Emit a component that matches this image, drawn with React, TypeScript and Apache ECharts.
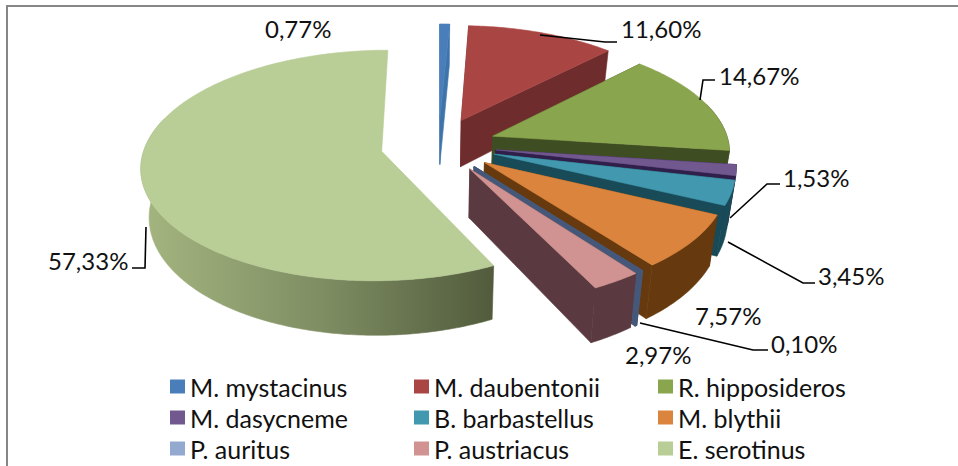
import React, { useEffect, useRef } from "react";
import * as echarts from "echarts";

const species = ["M. mystacinus", "M. daubentonii", "R. hipposideros", "M. dasycneme", "B. barbastellus", "M. blythii", "P. auritus", "P. austriacus", "E. serotinus"];
const shares = [0.77, 11.6, 14.67, 1.53, 3.45, 7.57, 0.1, 2.97, 57.33];

const topColors = ["#4a7ebb", "#a94644", "#89a54e", "#71588f", "#4198af", "#db843d", "#93a9cf", "#d19392", "#b9cd96"];
const wallColors = ["#3f74ab", "#6f2c2c", "#3f4e22", "#2f1f4a", "#184a58", "#663a0e", "#46587a", "#5a3a40", "#6f7d55"];

// Projection of the tilted disc on to the page
const CX = 438.5, CY = 145, RX = 236.5, RY = 112, PERSP = 0.122, EXPLODE = 0.245, DEPTH = 47.5, CONVERGE = 0.028;

const total = shares.reduce((a, b) => a + b, 0);
const starts = shares.map((_, i) => shares.slice(0, i).reduce((a, b) => a + b, 0));

function project(X: number, Y: number, bottom: boolean): number[] {
  const f = 1 / (1 - PERSP * Y);
  const x = CX + RX * X * f;
  const y = CY + RY * Y * f;
  if (!bottom) return [x, y];
  return [CX + (x - CX) * (1 - CONVERGE), y + DEPTH * f];
}

function makeRenderItem(index: number) {
  return (_params: any, api: any) => {
    const value = api.value(0);
    const start = api.value(1);
    const a0 = (start / total) * Math.PI * 2;
    const a1 = ((start + value) / total) * Math.PI * 2;
    const mid = (a0 + a1) / 2;
    const ox = EXPLODE * Math.sin(mid);
    const oy = -EXPLODE * Math.cos(mid);
    const n = Math.max(2, Math.ceil((a1 - a0) / 0.015));
    const rimTop: number[][] = [];
    const frontTop: number[][] = [];
    const frontBottom: number[][] = [];
    for (let k = 0; k <= n; k++) {
      const a = a0 + ((a1 - a0) * k) / n;
      const X = ox + Math.sin(a);
      const Y = oy - Math.cos(a);
      rimTop.push(project(X, Y, false));
      if (Math.cos(a) < 0.3) {
        frontTop.push(project(X, Y, false));
        frontBottom.push(project(X, Y, true));
      }
    }
    const apexTop = project(ox, oy, false);
    const apexBottom = project(ox, oy, true);
    const startX = ox + Math.sin(a0), startY = oy - Math.cos(a0);
    const endX = ox + Math.sin(a1), endY = oy - Math.cos(a1);
    const isLargest = index === 8;
    const wall: any = isLargest
      ? {
          type: "linear", x: 147, y: 0, x2: 493, y2: 0, global: true,
          colorStops: [
            { offset: 0, color: "#a3b47f" },
            { offset: 0.5, color: "#7f8e63" },
            { offset: 1, color: "#525c3d" },
          ],
        }
      : wallColors[index];
    const lineWidth = index === 6 ? 2 : 0.6;
    const poly = (points: number[][], fill: any, stroke: any) => ({
      type: "polygon",
      shape: { points },
      style: { fill, stroke, lineWidth, lineJoin: "round" },
    });
    const startWall = [apexTop, project(startX, startY, false), project(startX, startY, true), apexBottom];
    const endWall = [apexTop, project(endX, endY, false), project(endX, endY, true), apexBottom];
    const children: any[] = [];
    if (!isLargest) {
      children.push(poly(startWall, wall, wall), poly(endWall, wall, wall));
    }
    if (frontTop.length > 1) {
      children.push(poly([...frontTop, ...frontBottom.slice().reverse()], wall, wall));
    }
    const topStroke = index === 6 ? wallColors[6] : topColors[index];
    children.push(poly([apexTop, ...rimTop], topColors[index], topStroke));
    return { type: "group", children };
  };
}

const labelSpots = [
  [265, 28], [621, 28], [719, 75], [783, 177], [818, 275], [695, 315], [771, 343], [625, 354], [48, 260],
];
const leaders = [
  [[540, 35], [605, 42], [617, 42]],
  [[700, 100], [703, 80], [715, 80]],
  [[730, 218], [767, 184], [780, 184]],
  [[728, 242], [803, 283], [815, 283]],
  [[640, 323], [753, 350], [768, 350]],
  [[146, 227], [145, 268], [132, 268]],
];

const FONT = "Lato, 'Noto Sans', sans-serif";

function legendColumn(names: string[], left: number) {
  return {
    orient: "vertical" as const,
    left,
    top: 371,
    height: 120,
    padding: 0,
    itemWidth: 15,
    itemHeight: 14,
    itemGap: 0,
    data: names,
    selectedMode: false,
    icon: "rect",
    textStyle: { fontFamily: FONT, fontSize: 25, color: "#111", height: 31, lineHeight: 31 },
  };
}

export default function App() {
  const ref = useRef<HTMLDivElement>(null);
  useEffect(() => {
    const chart = echarts.init(ref.current!, undefined, { renderer: "svg" });
    chart.setOption({
      animation: false,
      backgroundColor: "#ffffff",
      legend: [
        legendColumn([species[0], species[3], species[6]], 170),
        legendColumn([species[1], species[4], species[7]], 414),
        legendColumn([species[2], species[5], species[8]], 658),
      ],
      series: species.map((name, i) => ({
        name,
        type: "custom",
        coordinateSystem: "none",
        silent: true,
        itemStyle: { color: topColors[i] },
        data: [[shares[i], starts[i]]],
        renderItem: makeRenderItem(i),
      })),
      graphic: [
        { type: "rect", x: 7, y: 6, shape: { x: 0, y: 0, width: 1000, height: 1000 }, style: { fill: "none", stroke: "#868686", lineWidth: 2 }, z: 0 },
        ...leaders.map((points) => ({
          type: "polyline",
          shape: { points },
          style: { fill: "none", stroke: "#000", lineWidth: 1.6 },
          z: 20,
        })),
        ...shares.map((v, i) => ({
          type: "text",
          x: labelSpots[i][0],
          y: labelSpots[i][1],
          style: {
            text: v.toFixed(2).replace(".", ",") + "%",
            font: `24px ${FONT}`,
            fill: "#111",
            verticalAlign: "middle",
            align: "left",
          },
          z: 21,
        })),
      ],
    });
    return () => chart.dispose();
  }, []);
  return <div ref={ref} style={{ position: "absolute", left: 0, top: 0, width: 958, height: 466 }} />;
}
